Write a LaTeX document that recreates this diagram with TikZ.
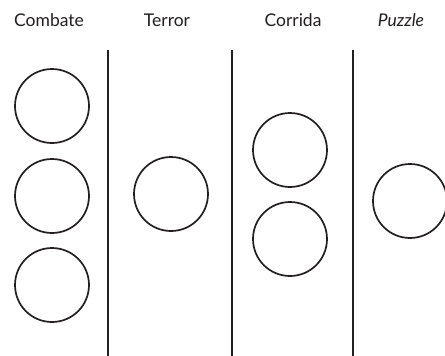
\documentclass[tikz,border=0pt]{standalone}
\usepackage{fontspec}
\setmainfont{Lato}
\definecolor{ink}{HTML}{231F20}
\begin{document}
\begin{tikzpicture}[x=1pt,y=-1pt,
  ball/.style={circle,draw=ink,line width=1.7pt,minimum size=74pt,inner sep=0pt},
  divider/.style={draw=ink,line width=1.7pt},
  head/.style={font=\fontsize{17.5}{20}\selectfont,text=ink,anchor=base}]
\useasboundingbox (0,0) rectangle (445,356);
\node[head] (h1) at (49,27) {Combate};
\node[head] (h2) at (167,27) {Terror};
\node[head] (h3) at (293,27) {Corrida};
\node[head] (h4) at (401,27) {\itshape Puzzle};
\coordinate (l1t) at (108,50); \coordinate (l1b) at (108,356);
\coordinate (l2t) at (232,50); \coordinate (l2b) at (232,356);
\coordinate (l3t) at (353,50); \coordinate (l3b) at (353,356);
\draw[divider] (l1t) -- (l1b);
\draw[divider] (l2t) -- (l2b);
\draw[divider] (l3t) -- (l3b);
\node[ball] (c1) at (52,106) {};
\node[ball] (c2) at (52,196) {};
\node[ball] (c3) at (52,285) {};
\node[ball] (t1) at (171,194) {};
\node[ball] (r1) at (290,150) {};
\node[ball] (r2) at (290,239) {};
\node[ball] (p1) at (410,201) {};
\end{tikzpicture}
\end{document}
